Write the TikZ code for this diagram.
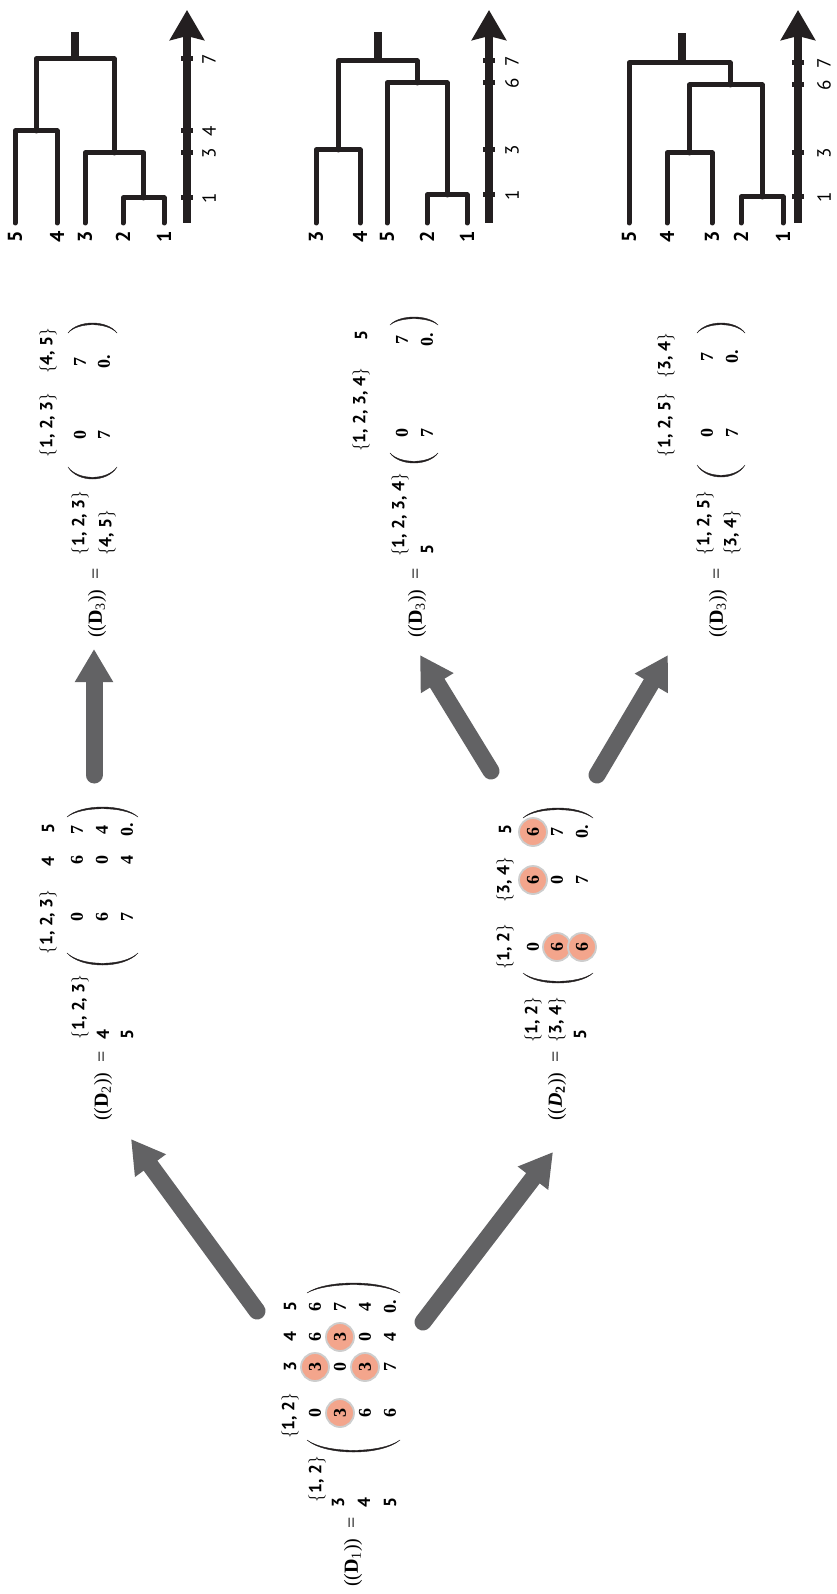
\documentclass[tikz,border=0pt]{standalone}
\usepackage{fontspec}
\setmainfont{Liberation Serif}
\newfontfamily\labfont{PT Sans}
\usetikzlibrary{arrows.meta}
\definecolor{ink}{RGB}{35,31,32}
\definecolor{agray}{RGB}{98,98,100}
\definecolor{salmon}{RGB}{243,165,140}
\definecolor{ring}{RGB}{205,205,205}
\newcommand\setlab[1]{$\{$#1$\}$}
\newcommand\matparen[5]{\filldraw[ink,line width=0.4pt] (#1,#3) .. controls ({#1+0.2*(#2-#1)},{#3+4/3*(#4-#3)}) and ({#2-0.2*(#2-#1)},{#3+4/3*(#4-#3)}) .. (#2,#3) .. controls ({#2-0.2*(#2-#1)},{#3+4/3*(#5-#3)}) and ({#1+0.2*(#2-#1)},{#3+4/3*(#5-#3)}) .. cycle;}
\newcommand\tickmark[2]{\fill[ink] ({#1-6},{#2-2.5}) rectangle ({#1+6},{#2+2.5});}
\begin{document}
\begin{tikzpicture}[x=1pt,y=-1pt,
  ent/.style={rotate=90, inner sep=0pt, font=\fontsize{18}{18}\selectfont\bfseries},
  lab/.style={rotate=90, inner sep=0pt, font=\fontsize{17.5}{17.5}\selectfont\labfont\bfseries},
  eqn/.style={rotate=90, inner sep=0pt, font=\fontsize{20}{20}\selectfont},
  leaf/.style={rotate=90, inner sep=0pt, font=\fontsize{20}{20}\selectfont\labfont\bfseries},
  axlab/.style={rotate=90, inner sep=0pt, font=\fontsize{19}{19}\selectfont\labfont},
  hl/.style={fill=salmon, draw=ring, line width=1.8pt},
  dline/.style={draw=ink, line width=5pt, line cap=round, line join=round},
  stub/.style={draw=ink, line width=8pt},
  axisarrow/.style={draw=ink, line width=8pt, -{Stealth[length=30pt,width=34pt,inset=4pt]}},
  garrow/.style={draw=agray, line width=17pt, line cap=round, -{Triangle[length=33pt,width=36pt]}}
]
\fill[white] (0,0) rectangle (836,1594);
\useasboundingbox (0,0) rectangle (836,1594);

% ---------- D1 ----------
\draw[hl] (315,1367) circle[radius=14pt];
\draw[hl] (340,1413) circle[radius=14pt];
\draw[hl] (340,1337) circle[radius=14pt];
\draw[hl] (365,1367) circle[radius=14pt];
\node[eqn] (m1eq) at (353,1552) {((\textbf{D}\textsubscript{1}))\ \ =};
\node[lab] (m1r1) at (317,1479) {\setlab{1, 2}};
\node[lab] (m1r2) at (338,1503) {3};
\node[lab] (m1r3) at (364,1503) {4};
\node[lab] (m1r4) at (390,1503) {5};
\node[lab] (m1c1) at (290,1416) {\setlab{1, 2}};
\node[lab] (m1c2) at (290,1367) {3};
\node[lab] (m1c3) at (290,1337) {4};
\node[lab] (m1c4) at (290,1307) {5};
\foreach \r/\x/\a/\b/\c/\d in {1/315/0/3/6/6, 2/340/3/0/3/7, 3/365/6/3/0/4, 4/390/6/7/4/0.}{
  \node[ent] (m1e\r1) at (\x,1413) {\a};
  \node[ent] (m1e\r2) at (\x,1367) {\b};
  \node[ent] (m1e\r3) at (\x,1337) {\c};
  \node[ent] (m1e\r4) at (\x,1307) {\d};
}
\matparen{307}{400}{1440}{1452}{1450.3}
\matparen{307}{400}{1293}{1283}{1284.7}

% ---------- D2 (top) ----------
\node[eqn] (m2eq) at (103,1086) {((\textbf{D}\textsubscript{2}))\ \ =};
\node[lab] (m2r1) at (80,1007) {\setlab{1, 2, 3}};
\node[lab] (m2r2) at (103,1035) {4};
\node[lab] (m2r3) at (127,1035) {5};
\node[lab] (m2c1) at (48,922) {\setlab{1, 2, 3}};
\node[lab] (m2c2) at (48,862) {4};
\node[lab] (m2c3) at (48,829) {5};
\foreach \r/\x/\a/\b/\c in {1/77/0/6/7, 2/102/6/0/4, 3/127/7/4/0.}{
  \node[ent] (m2e\r1) at (\x,917) {\a};
  \node[ent] (m2e\r2) at (\x,860) {\b};
  \node[ent] (m2e\r3) at (\x,830) {\c};
}
\matparen{67}{138}{953}{965}{963.3}
\matparen{67}{138}{817}{807}{808.7}

% ---------- D2 (middle, italic) ----------
\draw[hl] (557,947) circle[radius=14pt];
\draw[hl] (582,947) circle[radius=14pt];
\draw[hl] (533,880) circle[radius=14pt];
\draw[hl] (533,832) circle[radius=14pt];
\node[eqn] (m3eq) at (557,1086) {((\textbf{\textit{D}\textsubscript{2}}))\ \ =};
\node[lab] (m3r1) at (533,1020) {\setlab{1, 2}};
\node[lab] (m3r2) at (557,1020) {\setlab{3, 4}};
\node[lab] (m3r3) at (580,1035) {5};
\node[lab] (m3c1) at (505,947) {\setlab{1, 2}};
\node[lab] (m3c2) at (505,880) {\setlab{3, 4}};
\node[lab] (m3c3) at (505,830) {5};
\foreach \r/\x/\a/\b/\c in {1/533/0/6/6, 2/557/6/0/7, 3/582/6/7/0.}{
  \node[ent] (m3e\r1) at (\x,947) {\a};
  \node[ent] (m3e\r2) at (\x,880) {\b};
  \node[ent] (m3e\r3) at (\x,832) {\c};
}
\matparen{523}{593}{973}{983}{981.3}
\matparen{523}{593}{818}{808}{809.7}

% ---------- D3 (top) ----------
\node[eqn] (m4eq) at (97,603) {((\textbf{D}\textsubscript{3}))\ \ =};
\node[lab] (m4r1) at (80,523) {\setlab{1, 2, 3}};
\node[lab] (m4r2) at (107,533) {\setlab{4, 5}};
\node[lab] (m4c1) at (48,425) {\setlab{1, 2, 3}};
\node[lab] (m4c2) at (48,351) {\setlab{4, 5}};
\node[ent] (m4e11) at (80,435) {0};
\node[ent] (m4e21) at (104,435) {7};
\node[ent] (m4e12) at (80,362) {7};
\node[ent] (m4e22) at (104,362) {0.};
\matparen{68}{117}{467}{479}{477.3}
\matparen{68}{117}{333}{323}{324.7}

% ---------- D3 (middle) ----------
\node[eqn] (m5eq) at (417,603) {((\textbf{D}\textsubscript{3}))\ \ =};
\node[lab] (m5r1) at (400,515) {\setlab{1, 2, 3, 4}};
\node[lab] (m5r2) at (427,550) {5};
\node[lab] (m5c1) at (361,410) {\setlab{1, 2, 3, 4}};
\node[lab] (m5c2) at (361,336) {5};
\node[ent] (m5e11) at (402,433) {0};
\node[ent] (m5e21) at (427,433) {7};
\node[ent] (m5e12) at (402,340) {7};
\node[ent] (m5e22) at (427,340) {0.};
\matparen{390}{438}{453}{463}{461.3}
\matparen{390}{438}{325}{317}{318.7}

% ---------- D3 (bottom) ----------
\node[eqn] (m6eq) at (718,603) {((\textbf{D}\textsubscript{3}))\ \ =};
\node[lab] (m6r1) at (705,523) {\setlab{1, 2, 5}};
\node[lab] (m6r2) at (732,533) {\setlab{3, 4}};
\node[lab] (m6c1) at (666,425) {\setlab{1, 2, 5}};
\node[lab] (m6c2) at (666,356) {\setlab{3, 4}};
\node[ent] (m6e11) at (707,433) {0};
\node[ent] (m6e21) at (732,433) {7};
\node[ent] (m6e12) at (707,357) {7};
\node[ent] (m6e22) at (732,357) {0.};
\matparen{697}{745}{465}{477}{475.3}
\matparen{697}{745}{333}{323}{324.7}

% ---------- gray arrows ----------
\coordinate (a1s) at (257,1311); \coordinate (a1e) at (131,1139);
\coordinate (a2s) at (423,1322); \coordinate (a2e) at (553,1152);
\coordinate (a3s) at (94,775);   \coordinate (a3e) at (94,649);
\coordinate (a4s) at (491,771);  \coordinate (a4e) at (420,655);
\coordinate (a5s) at (597,775);  \coordinate (a5e) at (668,655);
\draw[garrow] (a1s) -- (a1e);
\draw[garrow] (a2s) -- (a2e);
\draw[garrow] (a3s) -- (a3e);
\draw[garrow] (a4s) -- (a4e);
\draw[garrow] (a5s) -- (a5e);

% ---------- dendrogram 1 ----------
\draw[dline] (123,223) -- (123,198) -- (164,198) -- (164,223);
\draw[dline] (85,223) -- (85,153) -- (143.5,153) -- (143.5,198);
\draw[dline] (15,223) -- (15,131) -- (57,131) -- (57,223);
\draw[dline] (36,131) -- (36,59) -- (114,59) -- (114,153);
\draw[stub] (75,59) -- (75,32);
\node[leaf] (t1l5) at (15,237) {5};
\node[leaf] (t1l4) at (57,237) {4};
\node[leaf] (t1l3) at (85,237) {3};
\node[leaf] (t1l2) at (123,237) {2};
\node[leaf] (t1l1) at (164,237) {1};
\coordinate (ax1b) at (187,223); \coordinate (ax1t) at (187,10);
\draw[axisarrow] (ax1b) -- (ax1t);
\tickmark{187}{198}\tickmark{187}{153}\tickmark{187}{131}\tickmark{187}{59}
\node[axlab] (t1h1) at (209,198) {1};
\node[axlab] (t1h3) at (209,153) {3};
\node[axlab] (t1h4) at (209,131) {4};
\node[axlab] (t1h7) at (209,59) {7};

% ---------- dendrogram 2 ----------
\draw[dline] (427,223) -- (427,195) -- (467,195) -- (467,223);
\draw[dline] (316,223) -- (316,150) -- (360,150) -- (360,223);
\draw[dline] (387,223) -- (387,83) -- (447,83) -- (447,195);
\draw[dline] (338,150) -- (338,61) -- (417,61) -- (417,83);
\draw[stub] (378,61) -- (378,32);
\node[leaf] (t2l3) at (316,237) {3};
\node[leaf] (t2l4) at (360,237) {4};
\node[leaf] (t2l5) at (387,237) {5};
\node[leaf] (t2l2) at (427,237) {2};
\node[leaf] (t2l1) at (467,237) {1};
\coordinate (ax2b) at (489,223); \coordinate (ax2t) at (489,10);
\draw[axisarrow] (ax2b) -- (ax2t);
\tickmark{489}{195}\tickmark{489}{150}\tickmark{489}{83}\tickmark{489}{61}
\node[axlab] (t2h1) at (512,195) {1};
\node[axlab] (t2h3) at (512,150) {3};
\node[axlab] (t2h6) at (512,83) {6};
\node[axlab] (t2h7) at (512,61) {7};

% ---------- dendrogram 3 ----------
\draw[dline] (741,223) -- (741,197) -- (783,197) -- (783,223);
\draw[dline] (667,223) -- (667,153) -- (712,153) -- (712,223);
\draw[dline] (689.5,153) -- (689.5,85) -- (762,85) -- (762,197);
\draw[dline] (629,223) -- (629,63) -- (730,63) -- (730,85);
\draw[stub] (682,63) -- (682,33);
\node[leaf] (t3l5) at (629,237) {5};
\node[leaf] (t3l4) at (667,237) {4};
\node[leaf] (t3l3) at (712,237) {3};
\node[leaf] (t3l2) at (741,237) {2};
\node[leaf] (t3l1) at (783,237) {1};
\coordinate (ax3b) at (798,223); \coordinate (ax3t) at (798,10);
\draw[axisarrow] (ax3b) -- (ax3t);
\tickmark{798}{197}\tickmark{798}{153}\tickmark{798}{85}\tickmark{798}{63}
\node[axlab] (t3h1) at (824,197) {1};
\node[axlab] (t3h3) at (824,153) {3};
\node[axlab] (t3h6) at (824,85) {6};
\node[axlab] (t3h7) at (824,63) {7};
\end{tikzpicture}
\end{document}
